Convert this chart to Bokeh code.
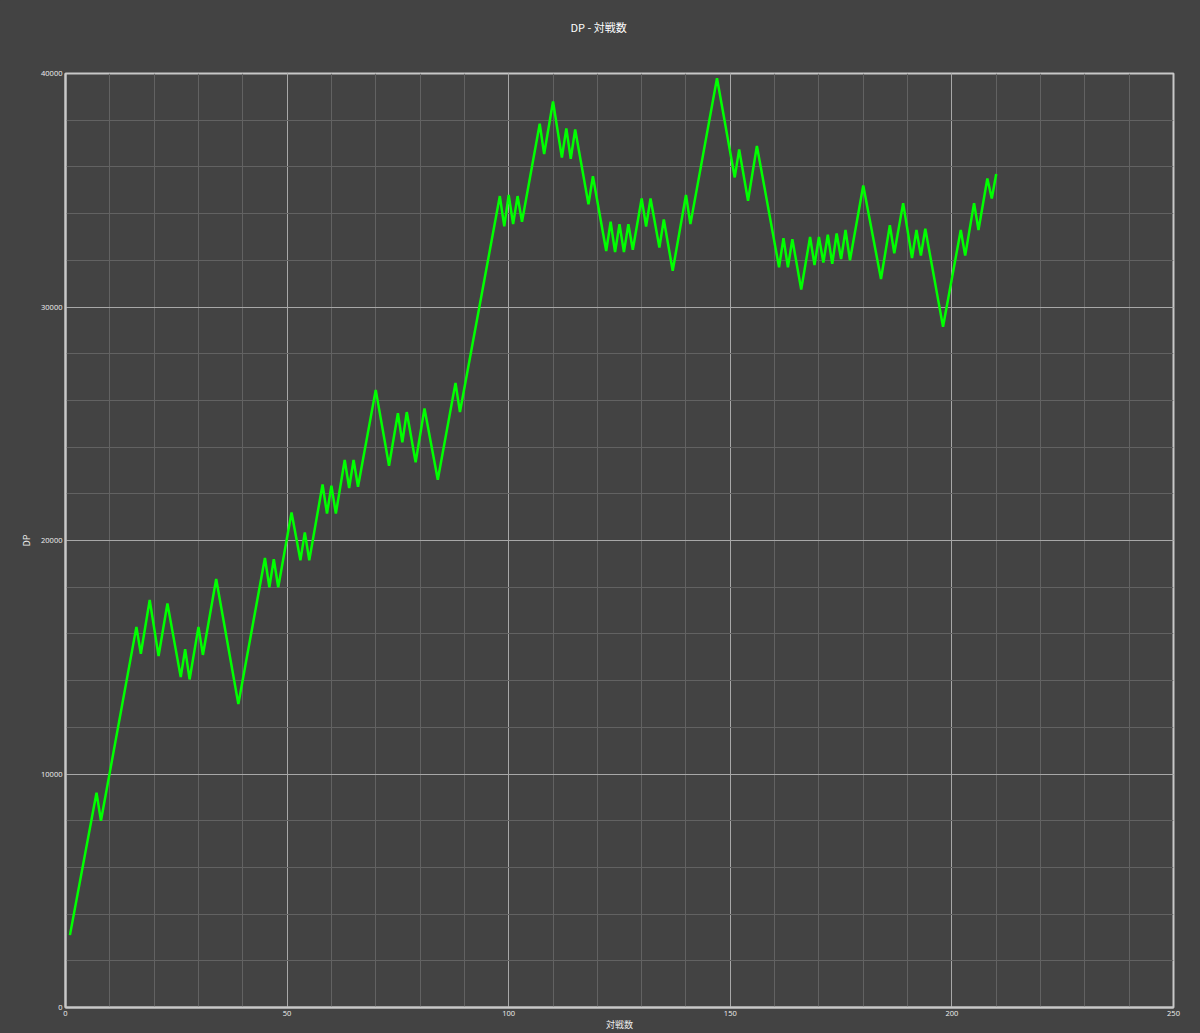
from bokeh.plotting import figure
from bokeh.models import ColumnDataSource, FixedTicker, Title
from bokeh.embed import file_html
from bokeh.resources import INLINE

# data: match count (vertices of the zigzag) and DP
matches = [1, 7, 8, 16, 17, 19, 21, 23, 26, 27, 28, 30, 31, 34, 39, 45, 46, 47, 48, 51,
           53, 54, 55, 58, 59, 60, 61, 63, 64, 65, 66, 70, 73, 75, 76, 77, 79, 81, 84, 88,
           89, 98, 99, 100, 101, 102, 103, 107, 108, 110, 112, 113, 114, 115, 118, 119, 122,
           123, 124, 125, 126, 127, 128, 130, 131, 132, 134, 135, 137, 140, 141, 147, 151,
           152, 154, 156, 161, 162, 163, 164, 166, 168, 169, 170, 171, 172, 173, 174, 175,
           176, 177, 180, 184, 186, 187, 189, 191, 192, 193, 194, 198, 202, 203, 205, 206,
           208, 209, 210]
dp = [3100, 9200, 8000, 16300, 15150, 17450, 15050, 17300, 14150, 15350, 14050, 16300, 15100,
      18350, 13000, 19250, 18000, 19200, 18000, 21200, 19150, 20350, 19150, 22400, 21150,
      22350, 21150, 23450, 22250, 23450, 22300, 26450, 23200, 25450, 24200, 25500, 23350,
      25650, 22600, 26750, 25500, 34750, 33450, 34800, 33550, 34750, 33650, 37850, 36550,
      38800, 36400, 37650, 36350, 37600, 34400, 35600, 32400, 33650, 32350, 33550, 32350,
      33550, 32450, 34650, 33450, 34650, 32550, 33750, 31550, 34800, 33550, 39800, 35550,
      36750, 34550, 36900, 31700, 32950, 31700, 32900, 30750, 33000, 31800, 33000, 31900,
      33100, 31850, 33150, 32050, 33300, 32000, 35200, 31200, 33500, 32300, 34450, 32100,
      33300, 32200, 33350, 29150, 33300, 32200, 34450, 33300, 35500, 34650, 35700]

x_ticks = [0, 50, 100, 150, 200, 250]
y_ticks = [0, 10000, 20000, 30000, 40000]
title_text = "DP - 対戦数"
x_label = "対戦数"
y_label = "DP"

BG = "#434343"
FONT = "Noto Sans CJK JP"
TICK_FONT = "Open Sans"

src = ColumnDataSource(dict(x=matches, y=dp))

p = figure(width=1200, height=1033, output_backend="svg", toolbar_location=None,
           title=None,
           x_range=(0, 250), y_range=(0, 40000),
           background_fill_color=BG, border_fill_color=BG,
           min_border_left=65, min_border_right=27, min_border_top=73, min_border_bottom=25)

# spacer title (closest to the frame) pushes the real title upward
spacer = Title(text=" ", text_font_size="1px", standoff=36, text_color=BG)
p.add_layout(spacer, "above")
main_title = Title(text=title_text, align="left", offset=505, standoff=0,
                   text_color="#ffffff", text_font=FONT, text_font_size="11px",
                   text_font_style="normal")
p.add_layout(main_title, "above")

p.line("x", "y", source=src, line_color="#00ff00", line_width=2.5)

p.xaxis.ticker = FixedTicker(ticks=x_ticks, minor_ticks=list(range(0, 251, 10)))
p.yaxis.ticker = FixedTicker(ticks=y_ticks, minor_ticks=list(range(0, 40001, 2000)))

for ax in (p.xaxis, p.yaxis):
    ax.axis_line_color = "#c8c8c8"
    ax.axis_line_width = 2
    ax.major_tick_line_color = None
    ax.minor_tick_line_color = None
    ax.major_tick_out = 0
    ax.minor_tick_out = 0
    ax.major_tick_in = 0
    ax.minor_tick_in = 0
    ax.major_label_text_color = "#f0f0f0"
    ax.major_label_text_font = TICK_FONT
    ax.major_label_text_font_size = "7.5px"
    ax.major_label_standoff = 3
    ax.axis_label_text_color = "#f0f0f0"
    ax.axis_label_text_font = FONT
    ax.axis_label_text_font_size = "9px"
    ax.axis_label_text_font_style = "normal"

p.yaxis.axis_label = y_label
p.yaxis.axis_label_standoff = 5
p.xaxis.axis_label = x_label
p.xaxis.axis_label_standoff = -1

p.outline_line_color = "#c8c8c8"
p.outline_line_width = 2
p.outline_line_alpha = 1

p.xgrid.grid_line_color = "#a8a8a8"
p.ygrid.grid_line_color = "#a8a8a8"
p.xgrid.grid_line_width = 1
p.ygrid.grid_line_width = 1
p.xgrid.minor_grid_line_color = "#626262"
p.ygrid.minor_grid_line_color = "#626262"
p.xgrid.minor_grid_line_width = 1
p.ygrid.minor_grid_line_width = 1

html = file_html(p, INLINE)
html = html.replace("<head>", "<head><style>html, body { background: #434343; }</style>", 1)
open("out.html", "w").write(html)
